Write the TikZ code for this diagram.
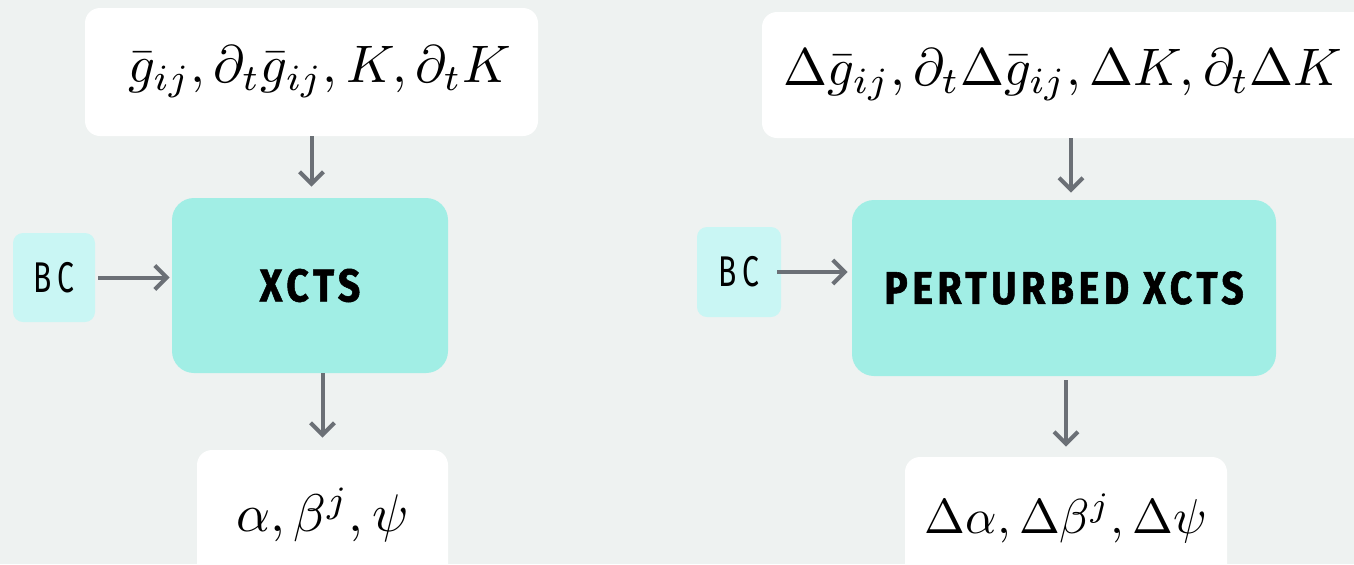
\documentclass[tikz,border=0pt]{standalone}
\usepackage{graphicx}
\usepackage{fontspec}
\usetikzlibrary{arrows.meta}
\newfontfamily\headfont[FakeStretch=0.85,LetterSpace=10,BoldFeatures={FakeBold=1.2}]{Fira Sans}
\newfontfamily\bcfont[FakeStretch=0.7,LetterSpace=14]{Fira Sans}
\definecolor{bgcol}{RGB}{238,242,241}
\definecolor{teal}{RGB}{161,238,229}
\definecolor{lightteal}{RGB}{201,246,244}
\definecolor{arrgray}{RGB}{107,112,118}
\newcommand{\bigmath}[2]{\scalebox{#1}{$#2$}}
\tikzset{
  inbox/.style={fill=white, rounded corners=7.5pt, inner sep=0pt},
  mainbox/.style={fill=teal, rounded corners=11pt, inner sep=0pt,
    font=\headfont\bfseries\fontsize{23}{28}\selectfont},
  bcbox/.style={fill=lightteal, rounded corners=5pt, inner sep=0pt,
    font=\bcfont\fontsize{21.5}{26}\selectfont},
  arr/.style={draw=arrgray, line width=2pt,
    -{Straight Barb[length=6pt,width=12pt,line width=2pt]}},
}
\begin{document}
\begin{tikzpicture}[x=0.5pt,y=-0.5pt]
\useasboundingbox (0,0) rectangle (1354,564);
\fill[bgcol] (0,0) rectangle (1354,564);
\begin{scope}
\clip (0,0) rectangle (1354,564);
% left diagram
\node[inbox, minimum width=226.5pt, minimum height=64pt] (t1) at (311.5,72)
  {\hspace*{8pt}\bigmath{2.64}{\bar g_{ij},\partial_t\bar g_{ij},K,\partial_t K}};
\node[mainbox, minimum width=138pt, minimum height=87.5pt] (x1) at (310,285.5) {XCTS};
\node[bcbox, minimum width=41pt, minimum height=44.5pt] (bc1) at (54,277.5) {BC};
\node[inbox, minimum width=125.5pt, minimum height=65pt] (b1) at (322.5,515)
  {\bigmath{2.65}{\alpha,\beta^j,\psi}};
% right diagram
\node[inbox, minimum width=309pt, minimum height=63pt] (t2) at (1071,75)
  {\bigmath{2.64}{\Delta\bar g_{ij},\partial_t\Delta\bar g_{ij},\Delta K,\partial_t\Delta K}\hspace*{8pt}};
\node[mainbox, minimum width=212pt, minimum height=88pt] (x2) at (1064,288) {PERTURBED XCTS};
\node[bcbox, minimum width=42pt, minimum height=45pt] (bc2) at (739,272) {BC};
\node[inbox, minimum width=161pt, minimum height=61.5pt] (b2) at (1066,518.5)
  {\bigmath{2.45}{\Delta\alpha,\Delta\beta^j,\Delta\psi}};
\end{scope}
% connectors
\draw[arr, shorten >=5.5pt] (t1.south) -- (t1.south |- x1.north);
\draw[arr, shorten >=6pt] (x1.south -| b1.north) -- (b1.north);
\draw[arr, shorten <=1.5pt, shorten >=1pt] (bc1.east) -- (bc1.east -| x1.west);
\draw[arr, shorten >=3.5pt] (t2.south) -- (t2.south |- x2.north);
\draw[arr, shorten <=2pt, shorten >=5pt] (x2.south -| b2.north) -- (b2.north);
\draw[arr, shorten <=-2pt, shorten >=2pt] (bc2.east) -- (bc2.east -| x2.west);
\end{tikzpicture}
\end{document}
